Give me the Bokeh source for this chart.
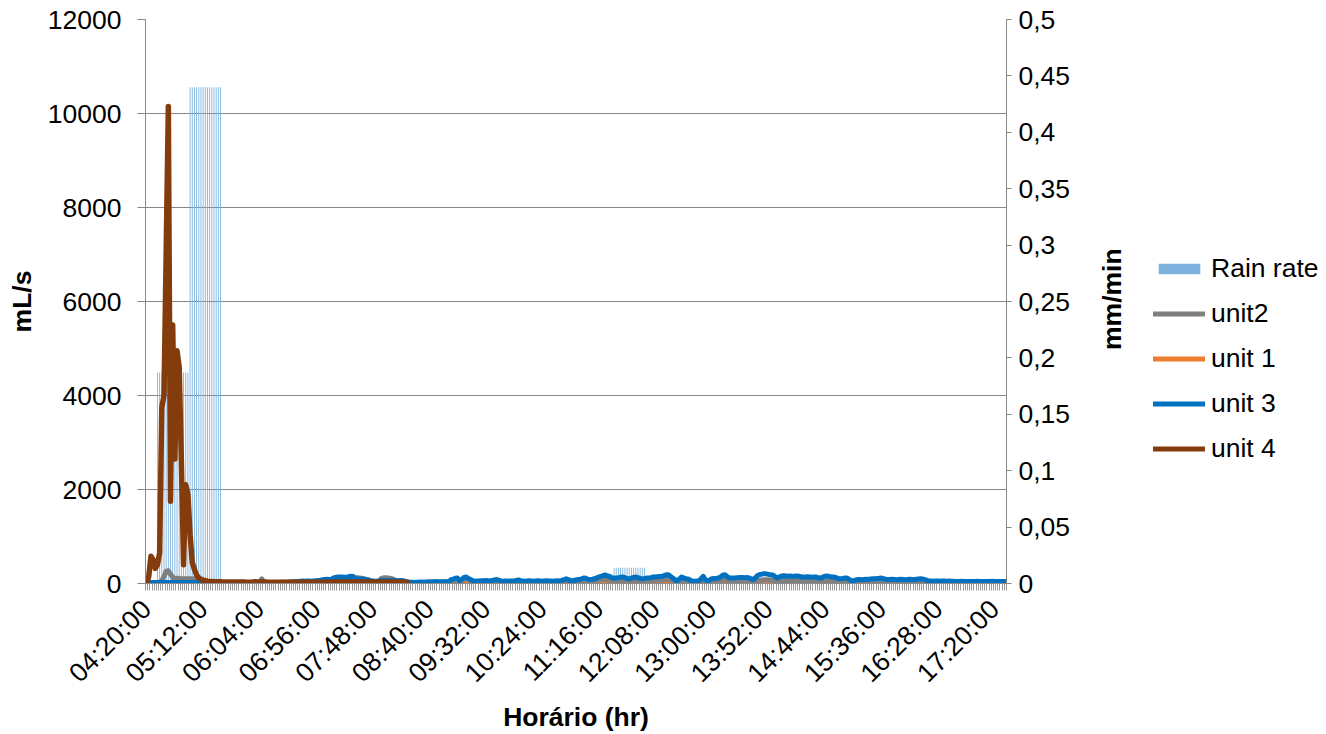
import math
from bokeh.plotting import figure
from bokeh.layouts import row
from bokeh.models import (Range1d, LinearAxis, FixedTicker, CustomJSTickFormatter,
                          Legend, LegendItem, Label)
from bokeh.embed import file_html
from bokeh.resources import INLINE

# ---------------- data ----------------
N_CAT = 396
minutes = [260 + 2 * i for i in range(N_CAT)]          # 04:20:00 ... 17:30:00 (2-min categories)
label_ticks = [260 + 52 * k for k in range(16)]         # 04:20:00 ... 17:20:00

rain_rate = [0] * 5 + [0.187] * 15 + [0.44] * 15 + [0] * 180 + [0.014] * 15 + [0] * 166

unit2 = [
    0, 0, 0, 10, 15, 20, 30, 60, 150, 260,
    270, 200, 130, 110, 110, 105, 100, 100, 100, 100,
    100, 100, 95, 90, 85, 60, 30, 20, 15, 15,
    15, 15, 15, 15, 15, 15, 15, 15, 15, 15,
    15, 15, 15, 15, 15, 15, 15, 15, 15, 15,
    15, 20, 30, 100, 25, 15, 15, 15, 15, 15,
    15, 15, 20, 20, 20, 20, 25, 25, 30, 30,
    35, 35, 40, 40, 40, 45, 45, 50, 50, 55,
    55, 60, 60, 65, 70, 80, 120, 130, 130, 135,
    130, 130, 125, 120, 115, 110, 117, 120, 117, 110,
    100, 90, 70, 60, 40, 40, 45, 60, 110, 120,
    120, 115, 110, 100, 80, 50, 35, 30, 30, 30,
    25, 20, 20, 20, 20, 20, 20, 25, 25, 25,
    25, 25, 25, 30, 30, 30, 30, 30, 30, 35,
    50, 60, 70, 80, 40, 60, 90, 100, 80, 60,
    45, 40, 40, 40, 45, 45, 45, 40, 40, 45,
    50, 55, 50, 40, 35, 35, 35, 35, 40, 40,
    40, 45, 45, 40, 40, 40, 40, 40, 40, 40,
    40, 40, 40, 40, 40, 40, 40, 40, 40, 45,
    45, 45, 50, 60, 55, 45, 45, 50, 55, 60,
    60, 70, 70, 60, 60, 60, 65, 70, 80, 80,
    85, 85, 80, 75, 70, 65, 65, 65, 70, 70,
    65, 60, 60, 60, 65, 70, 65, 60, 55, 55,
    60, 60, 65, 70, 70, 70, 75, 75, 80, 85,
    85, 75, 65, 50, 35, 45, 60, 60, 55, 50,
    40, 35, 30, 30, 35, 50, 60, 45, 35, 40,
    50, 55, 55, 60, 65, 75, 80, 70, 60, 60,
    60, 60, 65, 65, 65, 60, 60, 60, 55, 50,
    55, 65, 70, 75, 80, 80, 80, 75, 70, 60,
    55, 60, 65, 65, 65, 60, 60, 60, 60, 60,
    60, 55, 55, 55, 55, 55, 50, 50, 50, 45,
    45, 50, 55, 55, 55, 50, 50, 45, 40, 40,
    40, 40, 40, 35, 30, 25, 30, 35, 35, 35,
    35, 35, 35, 35, 40, 40, 40, 40, 40, 35,
    35, 30, 30, 30, 30, 30, 30, 30, 30, 30,
    30, 30, 30, 30, 30, 30, 30, 30, 30, 25,
    20, 20, 20, 20, 20, 20, 20, 20, 20, 20,
    15, 15, 15, 15, 15, 15, 15, 15, 15, 15,
    15, 15, 15, 15, 15, 15, 15, 15, 15, 15,
    15, 15, 15, 15, 15, 15,
]

unit1 = [0] * N_CAT

unit3 = [
    0, 15, 20, 20, 20, 20, 20, 20, 20, 20,
    20, 20, 20, 20, 20, 20, 20, 20, 20, 20,
    20, 20, 20, 20, 15, 15, 15, 15, 15, 15,
    15, 15, 15, 15, 15, 15, 15, 15, 15, 15,
    15, 15, 15, 15, 15, 20, 20, 20, 20, 20,
    20, 20, 20, 20, 20, 20, 20, 20, 20, 20,
    20, 20, 25, 25, 25, 25, 30, 30, 35, 40,
    45, 50, 55, 50, 55, 55, 50, 55, 60, 65,
    70, 80, 85, 90, 85, 90, 110, 130, 140, 135,
    140, 135, 130, 145, 155, 150, 110, 95, 90, 95,
    85, 80, 75, 60, 55, 50, 50, 55, 65, 65,
    60, 65, 70, 65, 60, 65, 60, 65, 60, 45,
    30, 25, 25, 20, 25, 25, 30, 25, 25, 30,
    35, 30, 35, 40, 35, 30, 35, 40, 35, 40,
    80, 90, 110, 117, 60, 90, 130, 138, 110, 85,
    60, 50, 55, 55, 60, 60, 65, 60, 55, 65,
    75, 85, 70, 55, 50, 55, 50, 55, 55, 50,
    65, 75, 60, 55, 50, 55, 60, 55, 50, 55,
    60, 55, 50, 55, 60, 55, 55, 50, 55, 60,
    55, 65, 80, 100, 85, 60, 60, 70, 80, 85,
    100, 117, 110, 90, 85, 90, 100, 120, 138, 150,
    170, 180, 160, 150, 120, 115, 117, 125, 135, 138,
    125, 110, 100, 115, 130, 138, 125, 110, 100, 105,
    115, 117, 125, 138, 140, 145, 150, 150, 165, 187,
    185, 150, 117, 80, 53, 90, 138, 120, 100, 95,
    70, 53, 50, 53, 55, 100, 150, 80, 53, 75,
    100, 105, 110, 117, 140, 175, 187, 150, 117, 115,
    117, 120, 125, 130, 130, 125, 130, 120, 100, 85,
    120, 170, 190, 200, 210, 205, 195, 185, 180, 150,
    117, 140, 160, 165, 160, 155, 160, 150, 155, 160,
    155, 145, 140, 140, 145, 140, 135, 140, 140, 120,
    117, 135, 155, 160, 150, 140, 140, 125, 110, 100,
    105, 115, 117, 90, 65, 53, 70, 85, 85, 80,
    85, 90, 85, 95, 100, 100, 105, 110, 117, 100,
    90, 85, 85, 90, 85, 80, 85, 90, 85, 80,
    85, 90, 85, 80, 90, 95, 100, 95, 80, 65,
    55, 53, 50, 55, 53, 50, 55, 53, 50, 53,
    50, 48, 45, 45, 45, 48, 45, 45, 42, 45,
    45, 45, 48, 45, 45, 42, 45, 45, 45, 48,
    45, 45, 45, 42, 45, 45,
]

unit4 = [
    0, 150, 580, 500, 320, 400, 650, 3750, 4000, 7000,
    10150, 1750, 5500, 2650, 4950, 4600, 2600, 400, 2100, 1900,
    1050, 450, 300, 180, 120, 90, 70, 60, 50, 45,
    40, 40, 35, 35, 35, 30, 30, 30, 30, 30,
    30, 30, 30, 30, 30, 30, 25, 25, 25, 30,
    35, 30, 30, 35, 30, 30, 25, 25, 25, 25,
    25, 25, 25, 25, 25, 25, 25, 25, 25, 25,
    25, 25, 25, 25, 25, 25, 25, 25, 25, 25,
    25, 25, 25, 25, 25, 30, 30, 30, 30, 30,
    30, 30, 30, 30, 30, 30, 30, 30, 30, 30,
    30, 30, 30, 30, 30, 30, 30, 30, 30, 30,
    30, 30, 30, 30, 30, 30, 30, 30, 30, 25,
    25,
]

y_ticks = [0, 2000, 4000, 6000, 8000, 10000, 12000]
rain_ticks = [0, 0.05, 0.1, 0.15, 0.2, 0.25, 0.3, 0.35, 0.4, 0.45, 0.5]
series_names = ["Rain rate", "unit2", "unit 1", "unit 3", "unit 4"]

# ---------------- style ----------------
FONT = "Liberation Sans"
FS = "26.5px"
AXIS_GRAY = "#868686"
C_RAIN = "#7DB2DE"
C_U2 = "#7F7F7F"
C_U1 = "#ED7D31"
C_U3 = "#0070C0"
C_U4 = "#843C0C"
LW = 5

MAIN_W = 1091
p = figure(width=MAIN_W, height=734, output_backend="svg", toolbar_location=None,
           x_range=Range1d(minutes[0] - 1, minutes[-1] + 1),
           y_range=Range1d(0, 12000),
           min_border_left=145, min_border_right=MAIN_W - 145 - 861,
           min_border_top=19, min_border_bottom=151)
p.outline_line_color = None
p.background_fill_color = "white"
p.border_fill_color = "white"
p.extra_y_ranges = {"rain": Range1d(0, 0.5)}

# bars (secondary axis)
bars = p.vbar(x=minutes, top=rain_rate, width=0.8, y_range_name="rain",
              fill_color=C_RAIN, line_color=None)

line_kw = dict(line_join="round", line_cap="round")
r1 = p.line(minutes, unit1, line_color=C_U1, line_width=LW, **line_kw)
r2 = p.line(minutes, unit2, line_color=C_U2, line_width=LW, **line_kw)
r3 = p.line(minutes, unit3, line_color=C_U3, line_width=LW, **line_kw)
r4 = p.line(minutes[:len(unit4)], unit4, line_color=C_U4, line_width=5.5, **line_kw)

# x axis
xa = p.xaxis[0]
xa.ticker = FixedTicker(ticks=label_ticks, minor_ticks=[m - 1 for m in minutes] + [minutes[-1] + 1])
xa.formatter = CustomJSTickFormatter(code="""
const h = Math.floor(tick / 60), m = Math.round(tick % 60);
return String(h).padStart(2, '0') + ':' + String(m).padStart(2, '0') + ':00';
""")
xa.major_label_orientation = math.pi / 4
xa.major_tick_out = 0
xa.major_tick_in = 0
xa.minor_tick_out = 7
xa.minor_tick_in = 0
xa.minor_tick_line_color = "#999999"
xa.axis_line_color = AXIS_GRAY
xa.major_label_text_font = FONT
xa.major_label_text_font_size = FS
xa.major_label_text_color = "black"
xa.major_label_standoff = 14
xa.axis_label = "Horário (hr)"
xa.axis_label_text_font = FONT
xa.axis_label_text_font_size = FS
xa.axis_label_text_font_style = "bold"
xa.axis_label_text_color = "black"
xa.axis_label_standoff = 0

# left axis
ya = p.yaxis[0]
ya.ticker = FixedTicker(ticks=y_ticks)
ya.major_tick_out = 8
ya.major_tick_in = 0
ya.minor_tick_out = 0
ya.minor_tick_in = 0
ya.axis_line_color = AXIS_GRAY
ya.major_tick_line_color = AXIS_GRAY
ya.major_label_text_font = FONT
ya.major_label_text_font_size = FS
ya.major_label_text_color = "black"
ya.major_label_standoff = 16
ya.axis_label = "mL/s"
ya.axis_label_text_font = FONT
ya.axis_label_text_font_size = FS
ya.axis_label_text_font_style = "bold"
ya.axis_label_text_color = "black"
ya.axis_label_standoff = 8

p.xgrid.visible = False
p.ygrid.ticker = FixedTicker(ticks=y_ticks)
p.ygrid.grid_line_color = AXIS_GRAY
p.ygrid.grid_line_width = 1

# right axis (mm/min)
ra = LinearAxis(y_range_name="rain", ticker=FixedTicker(ticks=rain_ticks))
ra.formatter = CustomJSTickFormatter(code="""
let s = tick.toFixed(2);
s = s.replace(/0+$/, '').replace(/\\.$/, '');
return s.replace('.', ',');
""")
ra.major_tick_out = 5
ra.major_tick_in = 0
ra.minor_tick_out = 0
ra.minor_tick_in = 0
ra.axis_line_color = AXIS_GRAY
ra.major_tick_line_color = AXIS_GRAY
ra.major_label_text_font = FONT
ra.major_label_text_font_size = FS
ra.major_label_text_color = "black"
ra.major_label_standoff = 7
p.add_layout(ra, "right")

# ---------------- side panel: right-axis title + legend ----------------
SIDE_W = 1326 - MAIN_W
lg = figure(width=SIDE_W, height=734, output_backend="svg", toolbar_location=None,
            x_range=Range1d(0, SIDE_W), y_range=Range1d(0, 734),
            x_axis_location=None, y_axis_location=None,
            min_border_left=0, min_border_right=0, min_border_top=0, min_border_bottom=0)
lg.grid.visible = False
lg.outline_line_color = None
lg.background_fill_color = "white"
lg.border_fill_color = "white"

lg.add_layout(Label(x=1111 - MAIN_W, y=370, text="mm/min", angle=math.pi / 2,
                    text_align="center", text_baseline="middle",
                    text_font=FONT, text_font_size=FS, text_font_style="bold",
                    text_color="black"))

# legend swatches (kept outside the visible range of this panel)
k_bar = lg.vbar(x=[-100], bottom=[-60], top=[-50], width=10, fill_color=C_RAIN, line_color=None)
k2 = lg.line(x=[-100, -90], y=[-50, -50], line_color=C_U2, line_width=LW, **line_kw)
k1 = lg.line(x=[-100, -90], y=[-50, -50], line_color=C_U1, line_width=LW, **line_kw)
k3 = lg.line(x=[-100, -90], y=[-50, -50], line_color=C_U3, line_width=LW, **line_kw)
k4 = lg.line(x=[-100, -90], y=[-50, -50], line_color=C_U4, line_width=LW, **line_kw)

legend = Legend(items=[LegendItem(label=n, renderers=[r])
                       for n, r in zip(series_names, [k_bar, k2, k1, k3, k4])],
                location=(62, 119))
legend.label_text_font = FONT
legend.label_text_font_size = FS
legend.label_text_color = "black"
legend.glyph_width = 52
legend.glyph_height = 13
legend.label_standoff = 6
legend.label_height = 30
legend.spacing = 14
legend.padding = 10
legend.margin = 0
legend.border_line_color = None
legend.background_fill_alpha = 0
lg.add_layout(legend)

layout = row(p, lg, spacing=0)
open("out.html", "w").write(file_html(layout, INLINE))
